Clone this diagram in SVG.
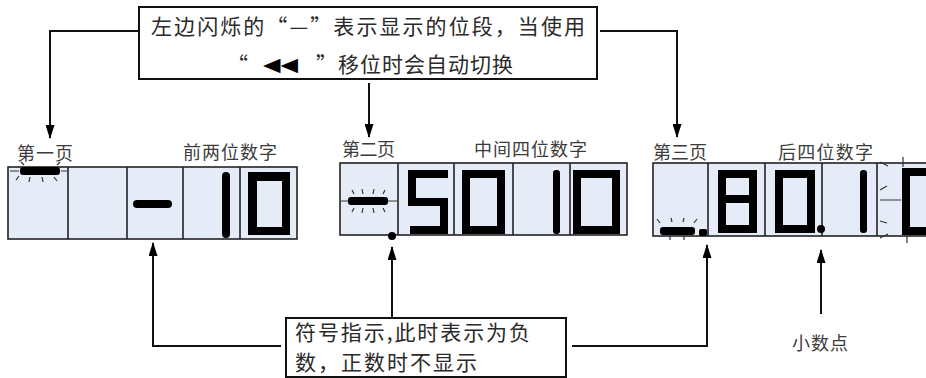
<svg xmlns="http://www.w3.org/2000/svg" width="926" height="378" viewBox="0 0 926 378">
<defs>
<marker id="ah" viewBox="0 0 14 9" refX="13" refY="4.5" markerWidth="14" markerHeight="9" markerUnits="userSpaceOnUse" orient="auto">
<path d="M0,0 L14,4.5 L0,9 z" fill="#000"/>
</marker>
<style>
.box{fill:#fff;stroke:#111;stroke-width:2}
.disp{fill:#e6ecf7;stroke:#222;stroke-width:1.6}
.div{stroke:#222;stroke-width:1.6}
.seg{fill:#000}
.ray{stroke:#333;stroke-width:1.2;fill:none}
.conn{fill:none;stroke:#111;stroke-width:2}
.big{font-family:"Noto Sans CJK SC","Noto Sans",sans-serif;font-size:21px;fill:#2a2a2a}
.lbl{font-family:"Noto Sans CJK SC","Noto Sans",sans-serif;font-size:18px;fill:#3c3c3c}
</style>
</defs>

<g id="connectors">
<path class="conn" d="M139,31 H50 V138" marker-end="url(#ah)"/>
<path class="conn" d="M600,31 H677 V137" marker-end="url(#ah)"/>
<path class="conn" d="M369,83 V137" marker-end="url(#ah)"/>
<path class="conn" d="M281,346 H153 V243" marker-end="url(#ah)"/>
<path class="conn" d="M392,318 V247" marker-end="url(#ah)"/>
<path class="conn" d="M572,346 H707 V245" marker-end="url(#ah)"/>
<path class="conn" d="M821,314 V250" marker-end="url(#ah)"/>
</g>

<g id="note-top">
<rect class="box" x="139" y="7" width="458" height="72"/>
<text class="big" x="151" y="34" textLength="434" lengthAdjust="spacing">左边闪烁的“—”表示显示的位段，当使用</text>
<text class="big" x="227" y="72">“</text>
<text x="263" y="71" style="font-family:'DejaVu Sans',sans-serif;font-size:19px;fill:#000" textLength="35" lengthAdjust="spacingAndGlyphs">◀◀</text>
<text class="big" x="316" y="72" textLength="197" lengthAdjust="spacing">”移位时会自动切换</text>
</g>

<g id="note-bottom">
<rect class="box" x="286" y="318" width="280" height="59"/>
<text class="big" x="295" y="340" textLength="235" lengthAdjust="spacing">符号指示,此时表示为负</text>
<text class="big" x="295" y="370" textLength="182" lengthAdjust="spacing">数，正数时不显示</text>
</g>

<g id="label-decimal">
<text class="lbl" x="792" y="350" textLength="56" lengthAdjust="spacing">小数点</text>
</g>

<g id="display-page1">
<text class="lbl" x="17" y="160" textLength="56" lengthAdjust="spacing">第一页</text>
<text class="lbl" x="183" y="159" textLength="94" lengthAdjust="spacing">前两位数字</text>
<rect class="disp" x="8" y="167" width="289" height="72"/>
<line class="div" x1="68" y1="167" x2="68" y2="239"/>
<line class="div" x1="127" y1="167" x2="127" y2="239"/>
<line class="div" x1="183" y1="167" x2="183" y2="239"/>
<line class="div" x1="240" y1="167" x2="240" y2="239"/>
<rect class="seg" x="20" y="167" width="40" height="8" rx="3"/>
<path class="ray" d="M10,171 H19 M61,171 H67 M19,176 L16,180 M30,177 L29,182 M42,177 L43,182 M54,177 L57,181 M24,165 L21,162 M57,165 L60,162"/>
<rect class="seg" x="133" y="200" width="39" height="8" rx="4"/>
<rect class="seg" x="222" y="172" width="8" height="66" rx="4"/>
<path class="seg" fill-rule="evenodd" d="M248,172 H290 V235 H248 Z M257,181 V227 H282 V181 Z"/>
</g>

<g id="display-page2">
<text class="lbl" x="342" y="156" textLength="53" lengthAdjust="spacing">第二页</text>
<text class="lbl" x="474" y="156" textLength="113" lengthAdjust="spacing">中间四位数字</text>
<rect class="disp" x="340" y="163" width="287" height="72"/>
<line class="div" x1="398" y1="163" x2="398" y2="235"/>
<line class="div" x1="454" y1="163" x2="454" y2="235"/>
<line class="div" x1="513" y1="163" x2="513" y2="235"/>
<line class="div" x1="570" y1="163" x2="570" y2="235"/>
<rect class="seg" x="348" y="197" width="40" height="8" rx="3"/>
<path class="ray" d="M341,201 H348 M388,201 H397 M352,190 L354,194 M362,189 L363,194 M374,189 L373,194 M385,190 L383,194 M352,212 L354,208 M362,213 L363,208 M374,213 L373,208 M385,212 L383,208"/>
<circle class="seg" cx="392" cy="236" r="4"/>
<path class="seg" d="M408,170 H448 V178 H416 V198 H448 V234 H410 V226 H440 V206 H408 Z"/>
<path class="seg" fill-rule="evenodd" d="M462,170 H505 V234 H462 Z M470,178 V226 H497 V178 Z"/>
<rect class="seg" x="553" y="170" width="7" height="64" rx="3"/>
<path class="seg" fill-rule="evenodd" d="M573,170 H620 V234 H573 Z M581,178 V226 H612 V178 Z"/>
</g>

<g id="display-page3">
<text class="lbl" x="653" y="159" textLength="54" lengthAdjust="spacing">第三页</text>
<text class="lbl" x="778" y="159" textLength="95" lengthAdjust="spacing">后四位数字</text>
<rect class="disp" x="653" y="163" width="290" height="73"/>
<line class="div" x1="708" y1="163" x2="708" y2="236"/>
<line class="div" x1="765" y1="163" x2="765" y2="236"/>
<line class="div" x1="822" y1="163" x2="822" y2="236"/>
<line class="div" x1="877" y1="163" x2="877" y2="236"/>
<rect class="seg" x="660" y="227" width="35" height="8" rx="3"/>
<path class="ray" d="M657,219 L660,223 M671,218 L672,222 M684,218 L683,222 M697,219 L694,223 M670,236 L670,240 M684,236 L684,240"/>
<rect class="seg" x="699" y="229" width="8" height="7" rx="2"/>
<path class="seg" fill-rule="evenodd" d="M718,170 H757 V233 H718 Z M726,178 V195 H749 V178 Z M726,203 V225 H749 V203 Z"/>
<path class="seg" fill-rule="evenodd" d="M775,170 H815 V233 H775 Z M783,178 V225 H807 V178 Z"/>
<circle class="seg" cx="821" cy="229" r="4"/>
<rect class="seg" x="860" y="170" width="7" height="63" rx="3"/>
<path class="seg" fill-rule="evenodd" d="M902,168 H940 V235 H902 Z M910,176 V227 H932 V176 Z"/>
<path class="ray" d="M903,157 V167 M907,236 V243 M880,200 H901 M880,162 L888,166 M880,190 L887,186 M880,221 L887,223 M880,238 L888,234"/>
</g>
</svg>
